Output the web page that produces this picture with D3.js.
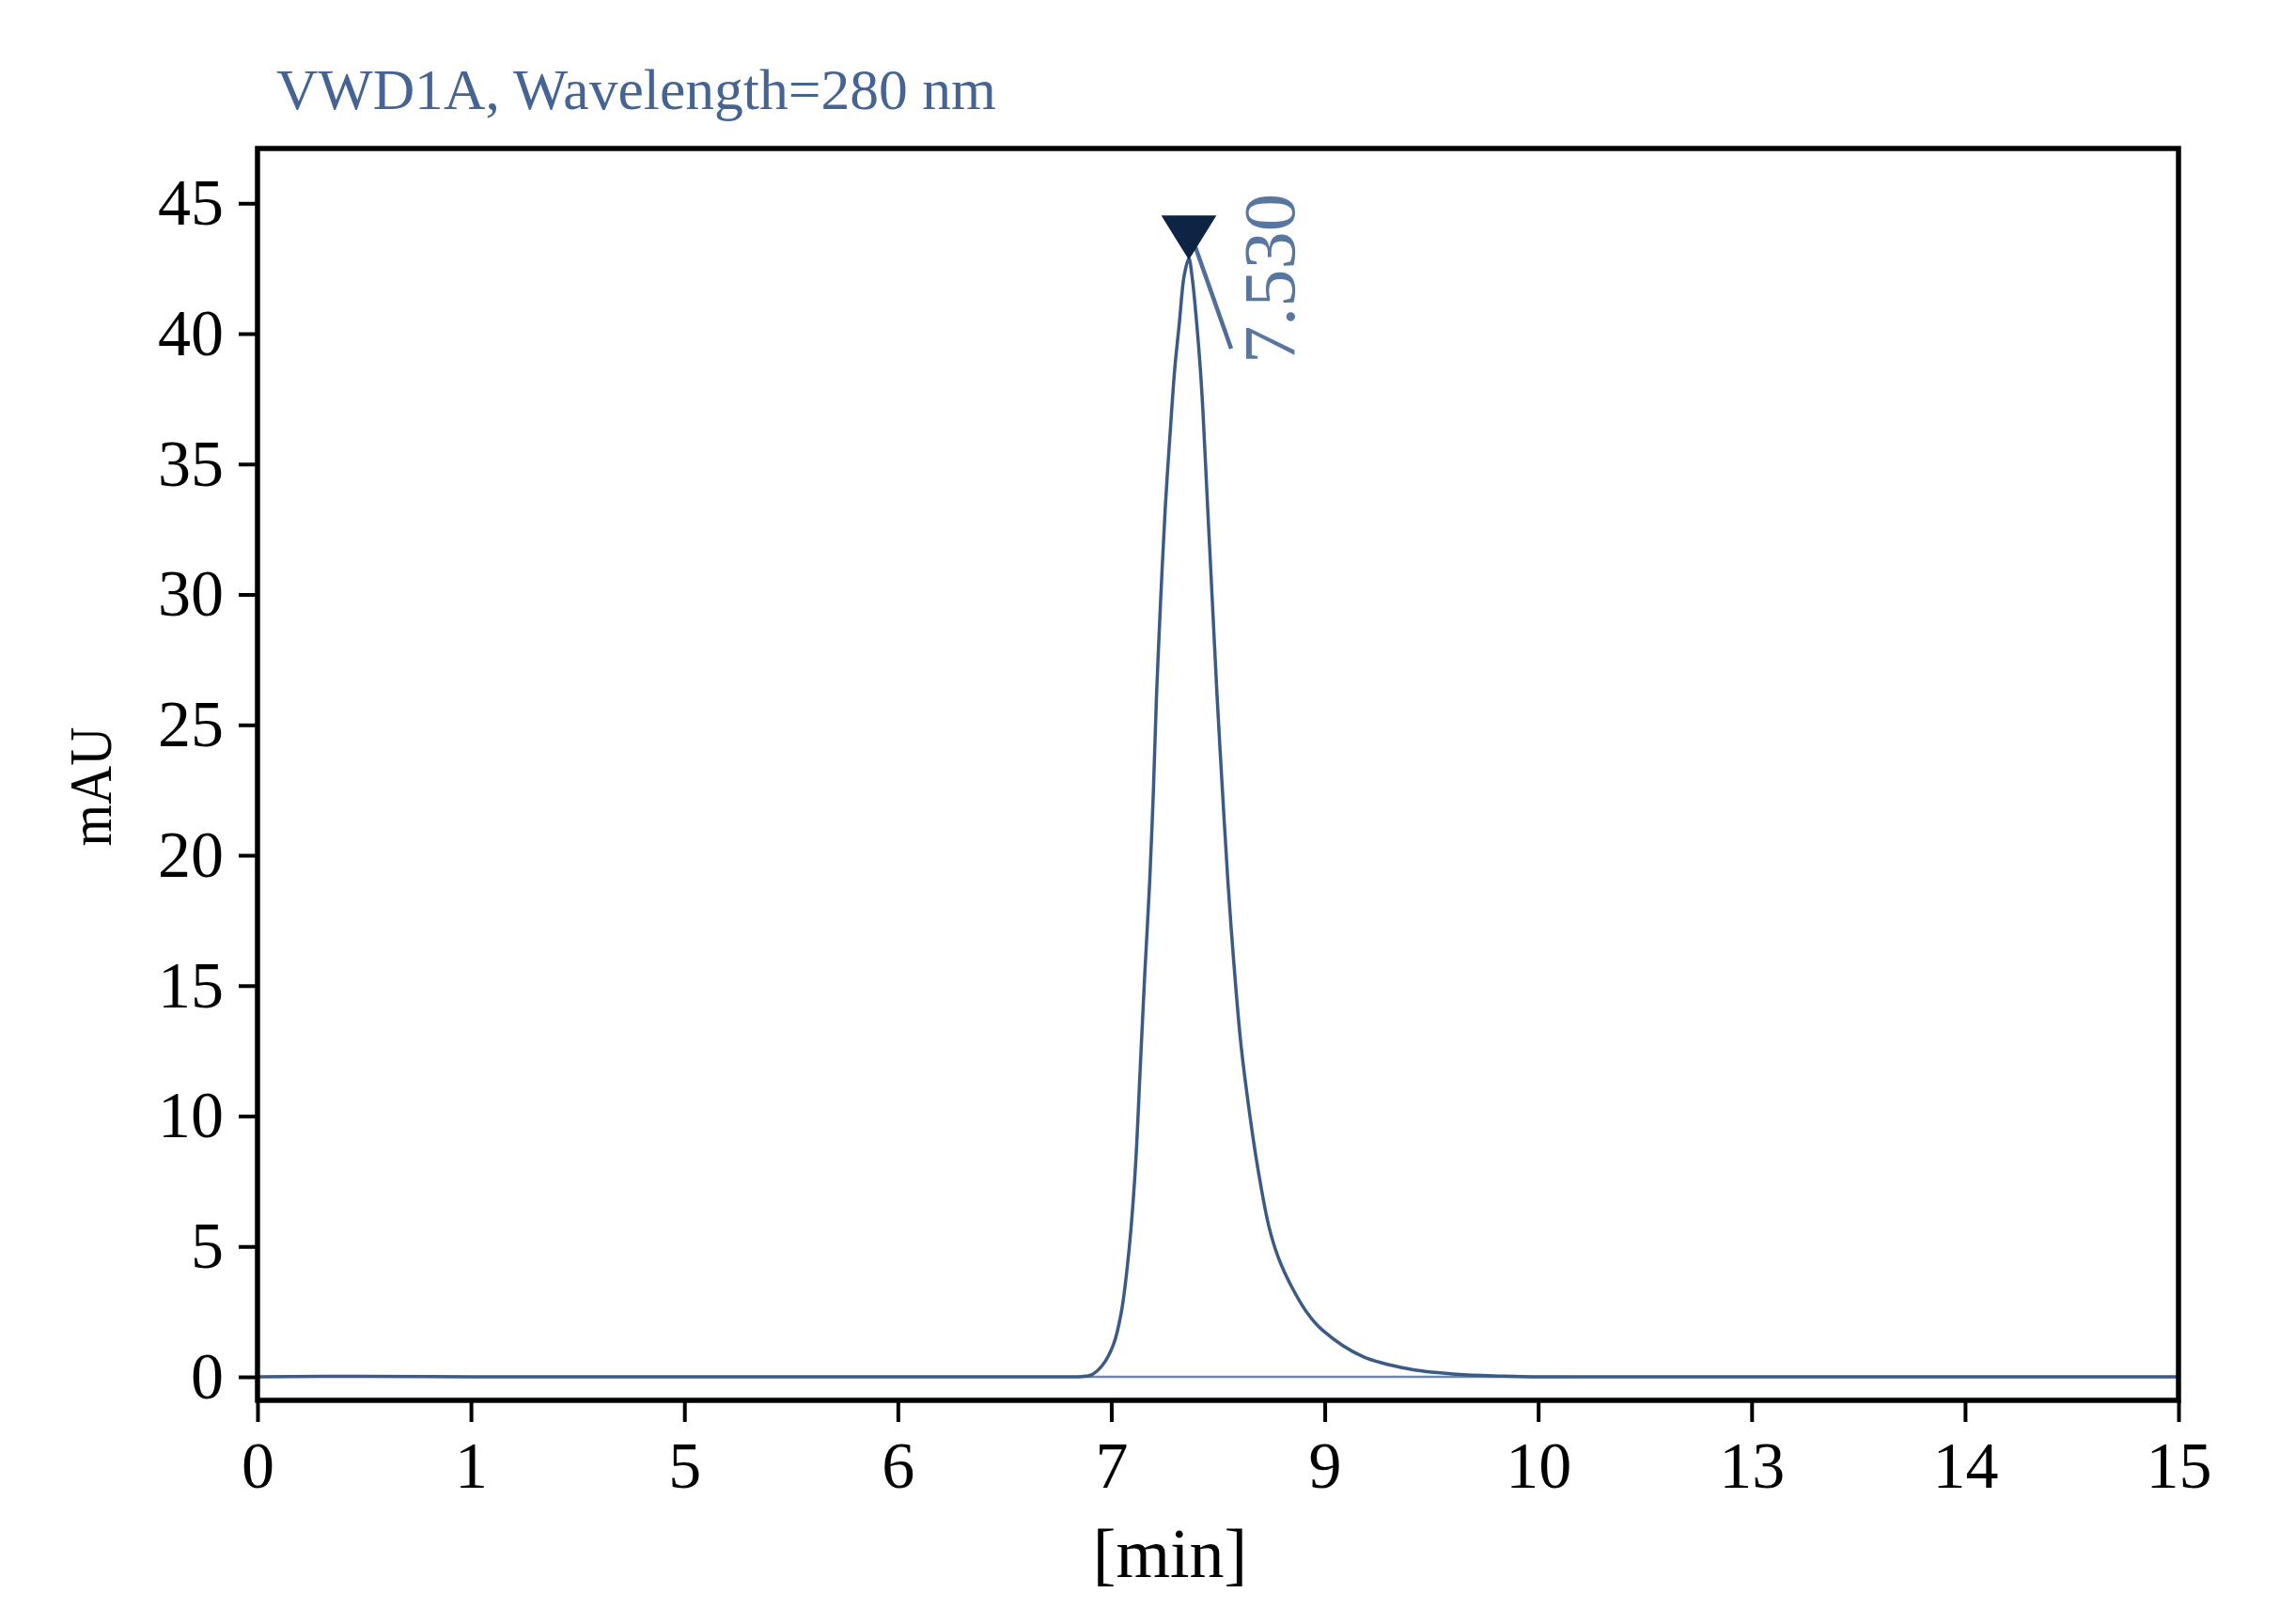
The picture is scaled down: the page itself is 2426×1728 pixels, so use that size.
<!DOCTYPE html>
<html>
<head>
<meta charset="utf-8">
<script src="https://cdn.jsdelivr.net/npm/d3@7"></script>
<style>
  html, body { margin: 0; padding: 0; background: #fff; }
  svg { display: block; }
</style>
</head>
<body>
<div id="chart"></div>
<script>
// Tick labels as printed on the x axis (evenly spaced on the plot)
const xTicks = [0, 1, 5, 6, 7, 9, 10, 13, 14, 15];
const yTicks = [0, 5, 10, 15, 20, 25, 30, 35, 40, 45];

// Detector signal (time in axis units, mAU)
const times = [0, 0.5, 1, 3, 5, 6, 6.5, 6.8, 6.86, 6.908, 6.959, 7.022, 7.095, 7.169, 7.227, 7.271,
  7.315, 7.359, 7.395, 7.424, 7.462, 7.506, 7.565, 7.594, 7.638, 7.683, 7.727, 7.756, 7.80, 7.835,
  7.859, 7.903, 7.947, 7.991, 8.041, 8.094, 8.144, 8.211, 8.273, 8.361, 8.475, 8.563, 8.678, 8.828,
  8.977, 9.178, 9.398, 9.618, 9.838, 10.01, 11, 13, 14, 15];
const signal = [0.0, 0.02, 0.0, 0.0, 0.0, 0.0, 0.0, 0.0, 0.01, 0.08, 0.45, 1.26, 2.5, 4.98, 8.09, 11.82,
  15.55, 18.92, 22.52, 26.13, 29.73, 33.33, 37.01, 38.62, 40.42, 42.22, 42.88, 42.22, 40.42, 38.62,
  37.01, 33.33, 29.73, 26.13, 22.52, 18.92, 16.1, 12.9, 10.8, 8.3, 5.8, 4.6, 3.55, 2.5,
  1.8, 0.78, 0.30, 0.10, 0.03, 0.0, 0.0, 0.0, 0.0, 0.0];

// Integration baseline under the peak
const baseTimes = [6.85, 10.4];
const baseValues = [0, 0];

// Peak annotation
const peakTime = 7.727;
const peakValue = 42.88;
const peakLabel = "7.530";

const titleText = "VWD1A, Wavelength=280 nm";
const xLabel = "[min]";
const yLabel = "mAU";

// Dimensions
const W = 2426, H = 1728;
const margin = { top: 158, right: 108, bottom: 238, left: 274 };
const width = W - margin.left - margin.right,
      height = H - margin.top - margin.bottom;

const svg = d3.select("#chart")
    .append("svg")
    .attr("width", W)
    .attr("height", H);

svg.append("rect").attr("width", W).attr("height", H).attr("fill", "#fff");

const g = svg.append("g")
    .attr("transform", `translate(${margin.left},${margin.top})`);

// x axis: printed ticks are evenly spaced, so use a piecewise linear scale
const x = d3.scaleLinear()
    .domain(xTicks)
    .range(xTicks.map((d, i) => i * width / (xTicks.length - 1)));

const y = d3.scaleLinear()
    .domain([-0.9, 47.1])
    .range([height, 0]);

const serif = "'Liberation Serif', 'Times New Roman', serif";

// X axis
const xAxis = g.append("g")
    .attr("transform", `translate(0,${height})`)
    .call(d3.axisBottom(x).tickValues(xTicks).tickFormat(d => d).tickSize(23).tickPadding(20));
xAxis.select(".domain").remove();
xAxis.selectAll("line").attr("stroke", "#000").attr("stroke-width", 4);
xAxis.selectAll("text")
    .attr("fill", "#000")
    .style("font-family", serif)
    .style("font-size", "70px");

// Y axis
const yAxis = g.append("g")
    .call(d3.axisLeft(y).tickValues(yTicks).tickSize(20).tickPadding(16));
yAxis.select(".domain").remove();
yAxis.selectAll("line").attr("stroke", "#000").attr("stroke-width", 4);
yAxis.selectAll("text")
    .attr("fill", "#000")
    .style("font-family", serif)
    .style("font-size", "70px");

// Integration baseline
const line = d3.line()
    .x(d => x(d[0]))
    .y(d => y(d[1]));

g.append("path")
    .datum(d3.zip(baseTimes, baseValues))
    .attr("fill", "none")
    .attr("stroke", "#6b87ad")
    .attr("stroke-width", 2.5)
    .attr("d", line);

// Signal
g.append("path")
    .datum(d3.zip(times, signal))
    .attr("fill", "none")
    .attr("stroke", "#3b5a85")
    .attr("stroke-width", 3.5)
    .attr("stroke-linejoin", "round")
    .attr("d", line.curve(d3.curveCatmullRom.alpha(0.5)));

// Frame
g.append("rect")
    .attr("width", width)
    .attr("height", height)
    .attr("fill", "none")
    .attr("stroke", "#000")
    .attr("stroke-width", 5.5);

// Peak marker, tick and label
const px = x(peakTime), py = y(peakValue);
g.append("line")
    .attr("x1", px + 7).attr("y1", py - 12)
    .attr("x2", px + 45).attr("y2", py + 96)
    .attr("stroke", "#4f6f99")
    .attr("stroke-width", 4.5);

g.append("path")
    .attr("d", `M${px - 28},${py - 45}L${px + 28},${py - 45}L${px},${py}Z`)
    .attr("fill", "#0e2445")
    .attr("stroke", "#0e2445")
    .attr("stroke-width", 1.5);

g.append("text")
    .attr("transform", `translate(${px + 112},${py + 112}) rotate(-90)`)
    .attr("textLength", 181)
    .attr("lengthAdjust", "spacingAndGlyphs")
    .attr("fill", "#5876a0")
    .style("font-family", serif)
    .style("font-size", "78px")
    .text(peakLabel);

// Title
svg.append("text")
    .attr("x", 294)
    .attr("y", 116)
    .attr("textLength", 766)
    .attr("lengthAdjust", "spacingAndGlyphs")
    .attr("fill", "#456493")
    .style("font-family", serif)
    .style("font-size", "61px")
    .text(titleText);

// Axis titles
svg.append("text")
    .attr("x", 1245)
    .attr("y", 1678)
    .attr("text-anchor", "middle")
    .attr("fill", "#000")
    .style("font-family", serif)
    .style("font-size", "74px")
    .text(xLabel);

svg.append("text")
    .attr("transform", "translate(118,837) rotate(-90)")
    .attr("text-anchor", "middle")
    .attr("textLength", 127)
    .attr("lengthAdjust", "spacingAndGlyphs")
    .attr("fill", "#000")
    .style("font-family", serif)
    .style("font-size", "64px")
    .text(yLabel);
</script>
</body>
</html>
